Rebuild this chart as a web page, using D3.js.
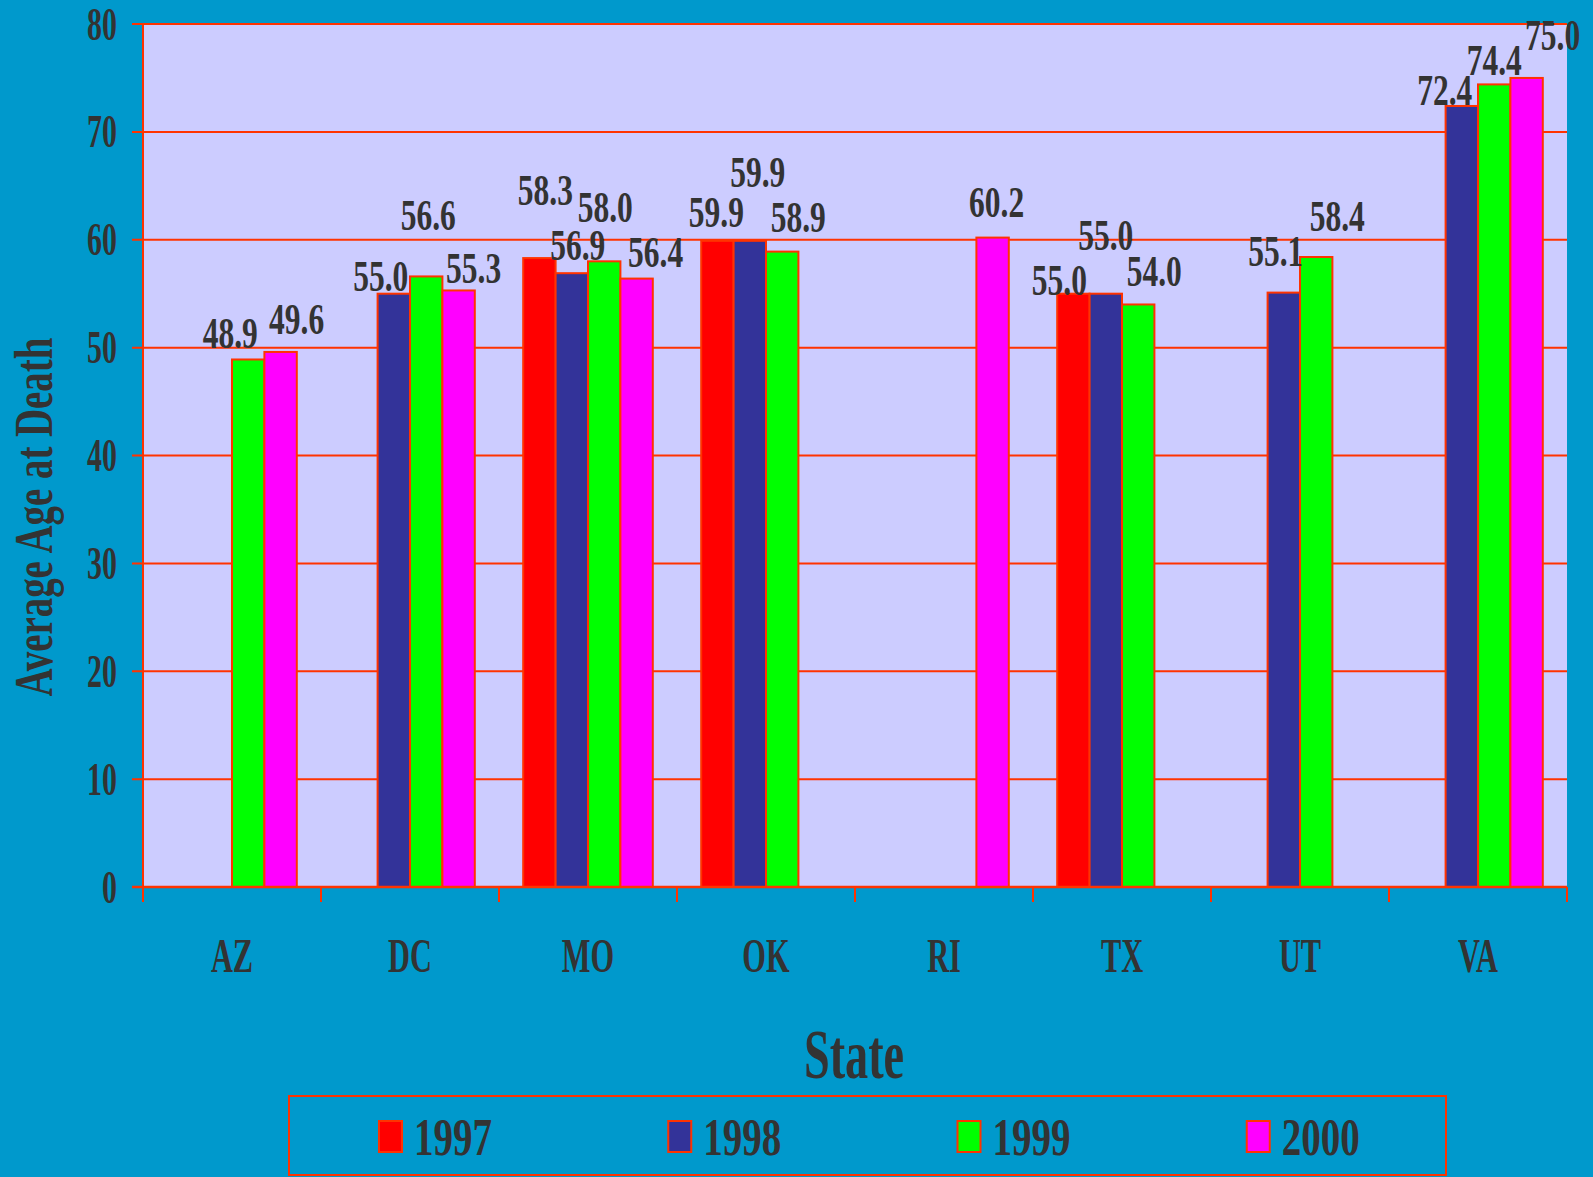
<!DOCTYPE html>
<html><head><meta charset="utf-8">
<script src="https://cdn.jsdelivr.net/npm/d3@7"></script>
<style>
html,body{margin:0;padding:0;background:#0099CC;}
svg{display:block;}
text{font-family:"Liberation Serif","Times New Roman",serif;font-weight:bold;fill:#333333;}
</style></head>
<body>
<svg id="chart" width="1593" height="1177"></svg>
<script>
const states = ["AZ","DC","MO","OK","RI","TX","UT","VA"];
const seriesNames = ["1997","1998","1999","2000"];
const seriesColors = ["#FF0000","#333399","#00FF00","#FF00FF"];
const v1997 = [null,null,58.3,59.9,null,55.0,null,null];
const v1998 = [null,55.0,56.9,59.9,null,55.0,55.1,72.4];
const v1999 = [48.9,56.6,58.0,58.9,null,54.0,58.4,74.4];
const v2000 = [49.6,55.3,56.4,null,60.2,null,null,75.0];
const yTicks = [0,10,20,30,40,50,60,70,80];
// label nudges [dx, dy] relative to bar top-center (layout only)
const labelNudge = {
  "1997": {MO:[6,-53], OK:[-1,-14], TX:[-14,1]},
  "1998": {DC:[-13,-3], MO:[6,-13], OK:[8,-54], TX:[0,-44], UT:[-8,-27], VA:[-17,-1]},
  "1999": {AZ:[-18,-11], DC:[2,-46], MO:[1,-39], OK:[16,-20], TX:[16,-18], UT:[21,-26], VA:[0,-9]},
  "2000": {AZ:[16,-18], DC:[15,-7], MO:[19,-12], RI:[4,-21], VA:[26,-28]}
};

const seriesValues = [v1997,v1998,v1999,v2000];
const svg = d3.select("#chart");
const L = 143, R = 1567, T = 24, B = 887;
const grid = "#FF3300";

const x0 = d3.scaleBand().domain(states).range([L,R]).paddingInner(0).paddingOuter(0);
const x1 = d3.scaleBand().domain(seriesNames).range([0,x0.bandwidth()]).paddingInner(0).paddingOuter(0.747);
const y = d3.scaleLinear().domain([0,80]).range([B,T]);

function stext(g, x, yy, str, size, sx, anchor){
  return g.append("text").attr("transform",`translate(${x},${yy}) scale(${sx},1)`)
    .attr("text-anchor",anchor).style("font-size",size+"px").text(str);
}

// plot area
svg.append("rect").attr("x",L).attr("y",T).attr("width",R-L).attr("height",B-T).attr("fill","#CCCCFF");

// gridlines
svg.append("g").selectAll("line").data(yTicks).join("line")
  .attr("x1",L-11).attr("x2",R).attr("y1",d=>y(d)).attr("y2",d=>y(d))
  .attr("stroke",grid).attr("stroke-width",2);

// y tick labels
const yl = svg.append("g");
yTicks.forEach(t=>stext(yl,117,y(t)+15.5,String(t),46,0.65,"end"));

// bars
const bars = svg.append("g");
seriesNames.forEach((s,j)=>{
  const data = states.map((st,i)=>({st, v:seriesValues[j][i]})).filter(d=>d.v!=null);
  bars.selectAll(null).data(data).join("rect")
    .attr("x",d=>x0(d.st)+x1(s)).attr("y",d=>y(d.v))
    .attr("width",x1.bandwidth()).attr("height",d=>B-y(d.v))
    .attr("fill",seriesColors[j]).attr("stroke",grid).attr("stroke-width",2);
});

// axes lines
svg.append("line").attr("x1",L).attr("x2",L).attr("y1",T).attr("y2",B+15).attr("stroke",grid).attr("stroke-width",2);
svg.append("line").attr("x1",L-11).attr("x2",R).attr("y1",B).attr("y2",B).attr("stroke",grid).attr("stroke-width",2.5);
const xt = states.map(s=>x0(s)).concat([R]);
svg.append("g").selectAll("line").data(xt).join("line")
  .attr("x1",d=>d).attr("x2",d=>d).attr("y1",B).attr("y2",B+15).attr("stroke",grid).attr("stroke-width",2);

// data labels
const lab = svg.append("g");
seriesNames.forEach((s,j)=>{
  states.forEach((st,i)=>{
    const v = seriesValues[j][i];
    if(v==null) return;
    const n = (labelNudge[s]&&labelNudge[s][st])||[0,-10];
    const cx = x0(st)+x1(s)+x1.bandwidth()/2 + n[0];
    stext(lab, cx, y(v)+n[1], v.toFixed(1), 45, 0.7, "middle");
  });
});

// category labels
const cl = svg.append("g");
states.forEach(st=>stext(cl, x0(st)+x0.bandwidth()/2, 972, st, 49, 0.62, "middle"));

// axis titles
svg.append("text").attr("transform","translate(52,517) rotate(-90) scale(0.72,1)")
  .attr("text-anchor","middle").style("font-size","54px").text("Average Age at Death");
stext(svg, 854, 1078, "State", 69, 0.67, "middle");

// legend
svg.append("rect").attr("x",289).attr("y",1096).attr("width",1446-289).attr("height",79)
  .attr("fill","none").attr("stroke",grid).attr("stroke-width",2);
const lx = d3.scaleBand().domain(seriesNames).range([289,1446]);
const lg = svg.append("g");
seriesNames.forEach((s,j)=>{
  const bx = lx(s)+90;
  lg.append("rect").attr("x",bx).attr("y",1121).attr("width",23).attr("height",31)
    .attr("fill",seriesColors[j]).attr("stroke",grid).attr("stroke-width",2);
  stext(lg, bx+35, 1155, s, 52, 0.75, "start");
});
</script>
</body></html>
